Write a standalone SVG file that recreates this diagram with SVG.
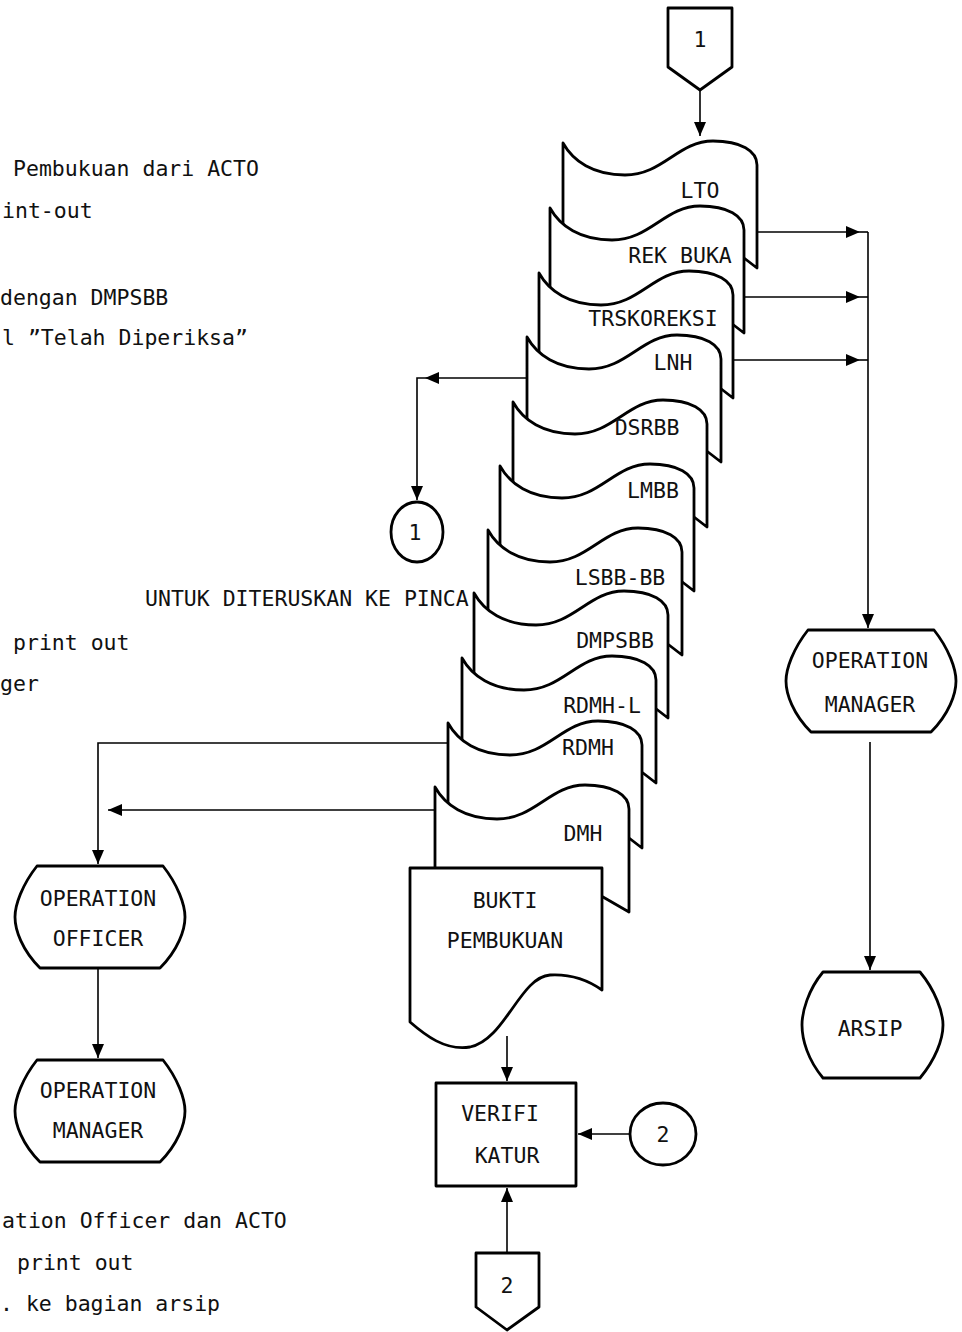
<svg xmlns="http://www.w3.org/2000/svg" xmlns:xlink="http://www.w3.org/1999/xlink" width="962" height="1332" viewBox="0 0 962 1332">
<style>
.t{font-family:"DejaVu Sans Mono","Liberation Mono",monospace;font-size:21.5px;fill:#111;}
.m{text-anchor:middle;}
.shp{fill:#fff;stroke:#000;stroke-width:2.8;stroke-linejoin:round;}
.ln{fill:none;stroke:#000;stroke-width:1.6;}
</style>
<defs>
<marker id="ah" markerUnits="userSpaceOnUse" markerWidth="14" markerHeight="12" refX="14" refY="6" orient="auto">
<path d="M0,0 L14,6 L0,12 Z" fill="#000"/>
</marker>
<path id="doc" d="M0,0 C10,18 30,32 62,32 C100,32 115,-2 150,-2 C178,-2 194,8 194,22 V125 L181,115 L0,115 Z"/>
<path id="term" d="M22,0 H148 C163,19 170,39 170,51 C170,64 163,84 145,102 H25 C7,84 0,64 0,51 C0,39 7,19 22,0 Z"/>
</defs>
<rect width="962" height="1332" fill="#fff"/>

<g id="notes" class="t">
<text x="13" y="176">Pembukuan dari ACTO</text>
<text x="2" y="218">int-out</text>
<text x="0" y="305">dengan DMPSBB</text>
<text x="2" y="345">l ”Telah Diperiksa”</text>
<text x="145" y="606">UNTUK DITERUSKAN KE PINCA</text>
<text x="13" y="650">print out</text>
<text x="0" y="691">ger</text>
<text x="2" y="1228">ation Officer dan ACTO</text>
<text x="17" y="1270">print out</text>
<text x="0" y="1311">. ke bagian arsip</text>
</g>

<g id="connectors" class="ln">
<line x1="700" y1="90" x2="700" y2="136" marker-end="url(#ah)"/>
<line x1="757" y1="232" x2="860" y2="232" marker-end="url(#ah)"/>
<line x1="860" y1="232" x2="868" y2="232"/>
<line x1="744" y1="297" x2="860" y2="297" marker-end="url(#ah)"/>
<line x1="860" y1="297" x2="868" y2="297"/>
<line x1="733" y1="360" x2="860" y2="360" marker-end="url(#ah)"/>
<line x1="860" y1="360" x2="868" y2="360"/>
<line x1="868" y1="232" x2="868" y2="628" marker-end="url(#ah)"/>
<line x1="870" y1="742" x2="870" y2="970" marker-end="url(#ah)"/>
<line x1="527" y1="378" x2="425" y2="378" marker-end="url(#ah)"/>
<polyline points="425,378 417,378 417,500" marker-end="url(#ah)"/>
<polyline points="448,743 98,743 98,864" marker-end="url(#ah)"/>
<line x1="435" y1="810" x2="108" y2="810" marker-end="url(#ah)"/>
<line x1="98" y1="968" x2="98" y2="1058" marker-end="url(#ah)"/>
<line x1="507" y1="1036" x2="507" y2="1081" marker-end="url(#ah)"/>
<line x1="630" y1="1134" x2="578" y2="1134" marker-end="url(#ah)"/>
<line x1="507" y1="1253" x2="507" y2="1188" marker-end="url(#ah)"/>
</g>

<g id="offpage1">
<path class="shp" d="M668,8 H732 V67 L700,90 L668,67 Z"/>
<text class="t m" x="700" y="47">1</text>
</g>

<g id="doc-lto"><use href="#doc" x="563" y="143" class="shp"/><text class="t m" x="700" y="198">LTO</text></g>
<g id="doc-rekbuka"><use href="#doc" x="550" y="208" class="shp"/><text class="t m" x="680" y="263">REK BUKA</text></g>
<g id="doc-trskoreksi"><use href="#doc" x="539" y="273" class="shp"/><text class="t m" x="653" y="326">TRSKOREKSI</text></g>
<g id="doc-lnh"><use href="#doc" x="527" y="337" class="shp"/><text class="t m" x="673" y="370">LNH</text></g>
<g id="doc-dsrbb"><use href="#doc" x="513" y="402" class="shp"/><text class="t m" x="647" y="435">DSRBB</text></g>
<g id="doc-lmbb"><use href="#doc" x="500" y="466" class="shp"/><text class="t m" x="653" y="498">LMBB</text></g>
<g id="doc-lsbbbb"><use href="#doc" x="488" y="530" class="shp"/><text class="t m" x="620" y="585">LSBB-BB</text></g>
<g id="doc-dmpsbb"><use href="#doc" x="474" y="593" class="shp"/><text class="t m" x="615" y="648">DMPSBB</text></g>
<g id="doc-rdmhl"><use href="#doc" x="462" y="658" class="shp"/><text class="t m" x="602" y="713">RDMH-L</text></g>
<g id="doc-rdmh"><use href="#doc" x="448" y="723" class="shp"/><text class="t m" x="588" y="755">RDMH</text></g>
<g id="doc-dmh"><path class="shp" d="M435,787 C445,805 465,819 497,819 C535,819 550,785 585,785 C613,785 629,795 629,809 V912 L603,897 L435,897 Z"/><text class="t m" x="583" y="841">DMH</text></g>

<g id="bukti">
<path class="shp" d="M410,868 H602 V990 C585,978 568,974 550,975 C520,977 505,1040 470,1047 C445,1051 425,1035 410,1022 Z"/>
<text class="t m" x="505" y="908">BUKTI</text>
<text class="t m" x="505" y="948">PEMBUKUAN</text>
</g>

<g id="circle1">
<ellipse class="shp" cx="417" cy="532" rx="26" ry="30"/>
<text class="t m" x="415" y="540">1</text>
</g>

<g id="om-right">
<use href="#term" x="786" y="630" class="shp"/>
<text class="t m" x="870" y="668">OPERATION</text>
<text class="t m" x="870" y="712">MANAGER</text>
</g>

<g id="arsip">
<path class="shp" d="M823,972 H920 C935,990 943,1012 943,1025 C943,1040 935,1060 920,1078 H823 C808,1060 802,1040 802,1025 C802,1012 808,990 823,972 Z"/>
<text class="t m" x="870" y="1036">ARSIP</text>
</g>

<g id="oo">
<use href="#term" x="15" y="866" class="shp"/>
<text class="t m" x="98" y="906">OPERATION</text>
<text class="t m" x="98" y="946">OFFICER</text>
</g>

<g id="om-left">
<use href="#term" x="15" y="1060" class="shp"/>
<text class="t m" x="98" y="1098">OPERATION</text>
<text class="t m" x="98" y="1138">MANAGER</text>
</g>

<g id="verifikatur">
<rect class="shp" x="436" y="1083" width="140" height="103" stroke-width="3"/>
<text class="t m" x="500" y="1121">VERIFI</text>
<text class="t m" x="507" y="1163">KATUR</text>
</g>

<g id="circle2">
<ellipse class="shp" cx="663" cy="1134" rx="33" ry="31"/>
<text class="t m" x="663" y="1142">2</text>
</g>

<g id="offpage2">
<path class="shp" d="M476,1253 H539 V1307 L507,1330 L476,1307 Z"/>
<text class="t m" x="507" y="1293">2</text>
</g>
</svg>
